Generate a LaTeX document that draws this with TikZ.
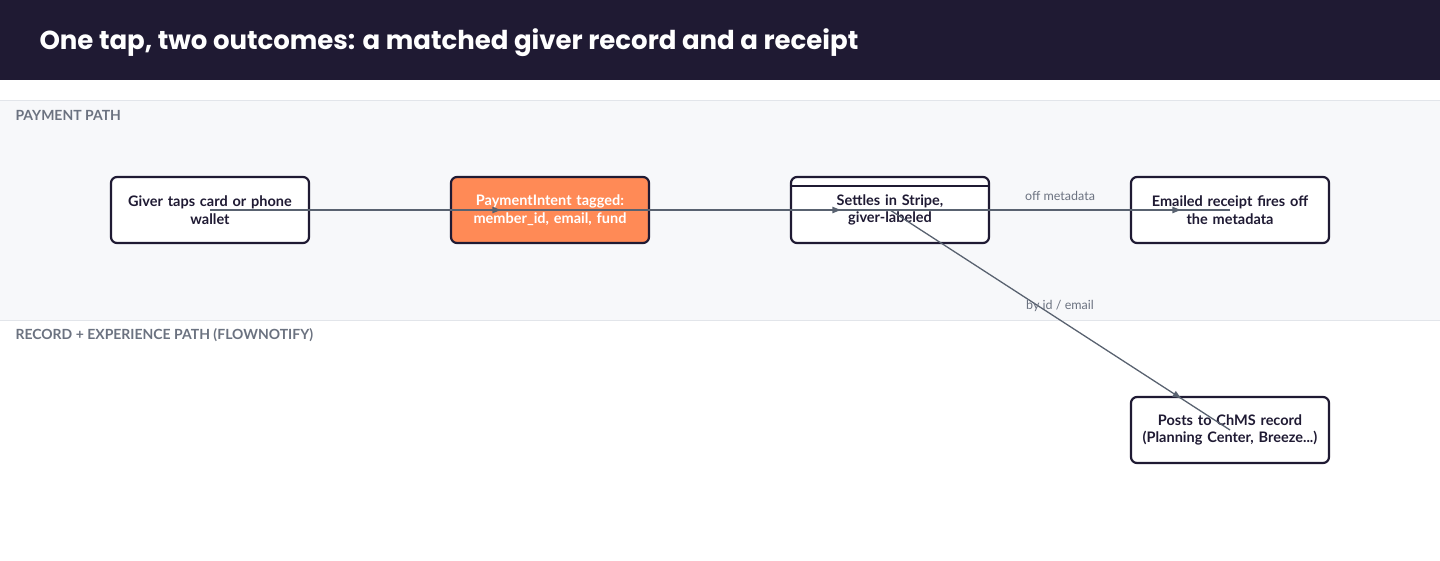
\documentclass[tikz,border=0pt]{standalone}
\usepackage{fontspec}
\setmainfont{Lato}
\newfontfamily\titlefont{Poppins}
\usetikzlibrary{decorations.markings, arrows.meta}
\definecolor{ink}{HTML}{1F1A33}
\definecolor{lanefill}{HTML}{F7F8FA}
\definecolor{laneline}{HTML}{E2E5EA}
\definecolor{lanetext}{HTML}{6B7280}
\definecolor{wire}{HTML}{596270}
\definecolor{accent}{HTML}{FF8A56}
\tikzset{
  step node/.style={
    rounded corners=6pt,
    draw=ink,
    line width=2.2pt,
    fill=white,
    align=center,
    minimum width=198pt,
    minimum height=66pt,
    text width=190pt,
    font=\fontsize{14.5}{17.5}\selectfont\bfseries,
    text=ink,
  },
  lane label/.style={anchor=west, font=\fontsize{14}{16}\selectfont\bfseries, text=lanetext},
  wire label/.style={font=\fontsize{12.5}{14}\selectfont, text=lanetext},
  wire/.style={draw=wire, line width=1.3pt,
    postaction={decorate},
    decoration={markings, mark=at position #1 with {\arrow[wire]{Latex[length=10pt,width=7pt]}}}},
}

\begin{document}
\begin{tikzpicture}[x=1pt, y=-1pt]
      \useasboundingbox (0,0) rectangle (1440,560);

      % header and lanes
      \fill[ink] (0,0) rectangle (1440,80);
      \node[anchor=west, text=white, font=\titlefont\fontsize{26}{30}\selectfont\bfseries] (title) at (36,43)
        {One tap, two outcomes: a matched giver record and a receipt};
      \fill[lanefill] (0,100) rectangle (1440,320);
      \draw[laneline, line width=1pt] (0,100) -- (1440,100);
      \draw[laneline, line width=1pt] (0,320) -- (1440,320);
      \node[lane label] (pay)    at (12,115) {PAYMENT PATH};
      \node[lane label] (record) at (12,335) {RECORD + EXPERIENCE PATH (FLOWNOTIFY)};

      \node[step node] (tap)     at (210,210)  {Giver taps card or phone\\wallet};
      \node[step node, fill=accent, text=white] (intent) at (550,210) {PaymentIntent tagged:\\member\_id, email, fund};
      \node[step node] (settle)  at (890,210)  {Settles in Stripe,\\giver-labeled};
      \draw[ink, line width=1.8pt] ([yshift=-10pt]settle.north west) -- ([yshift=-10pt]settle.north east);
      \node[step node] (receipt) at (1230,210) {Emailed receipt fires off\\the metadata};
      \node[step node] (chms)    at (1230,430) {Posts to ChMS record\\(Planning Center, Breeze...)};

      \path[wire=0.86] (tap.center) -- (intent.center);
      \path[wire=0.86] (intent.center) -- (settle.center);
      \path[wire=0.86] (settle.center) -- (receipt.center);
      \path[wire=0.86] (settle.center) -- (chms.center);

      \node[wire label] (offmeta) at (1060,196) {off metadata};
      \node[wire label] (byid)    at (1060,306) {by id / email};
\end{tikzpicture}
\end{document}
